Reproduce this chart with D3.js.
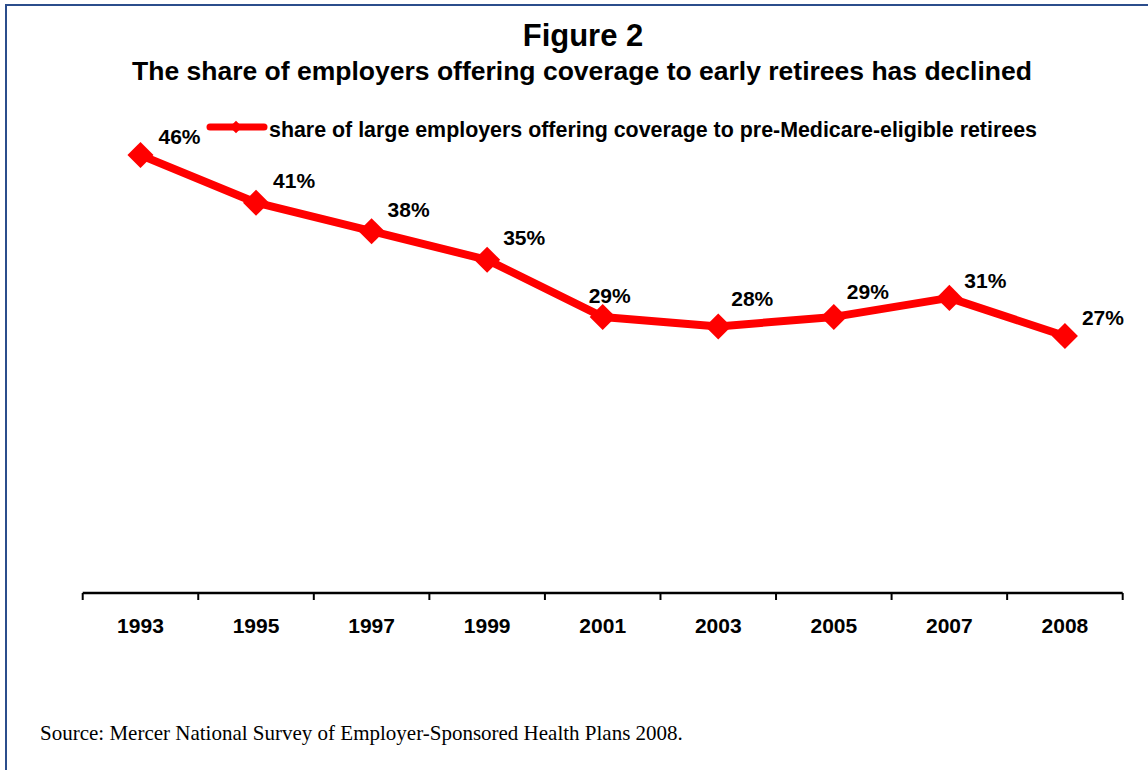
<!DOCTYPE html>
<html>
<head>
<meta charset="utf-8">
<script src="https://cdn.jsdelivr.net/npm/d3@7"></script>
<style>
  body { margin:0; background:#fff; }
  svg { display:block; }
</style>
</head>
<body>
<div id="chart"></div>
<script>
// data
const years = ['1993','1995','1997','1999','2001','2003','2005','2007','2008'];
const shares = [46, 41, 38, 35, 29, 28, 29, 31, 27];
const seriesName = 'share of large employers offering coverage to pre-Medicare-eligible retirees';

// label nudges (label start relative to marker), hand placed like the original
const labelDx = [18, 17, 16, 16, -14, 13, 13, 15, 17];
const labelDy = [-11, -15, -14, -15, -14, -20, -18, -10, -11];

const W = 1148, H = 770;
const RED = '#ff0000';

const svg = d3.select('#chart').append('svg')
  .attr('width', W)
  .attr('height', H);

svg.append('rect')
  .attr('x', 6).attr('y', 5)
  .attr('width', W + 20).attr('height', H + 20)
  .attr('fill', '#fff')
  .attr('stroke', '#2b4d8c')
  .attr('stroke-width', 2);

svg.append('text')
  .attr('x', 583).attr('y', 46)
  .attr('text-anchor', 'middle')
  .style('font', 'bold 31px "Liberation Sans", Arial, sans-serif')
  .text('Figure 2');

svg.append('text')
  .attr('x', 582).attr('y', 80)
  .attr('text-anchor', 'middle')
  .style('font', 'bold 26.5px "Liberation Sans", Arial, sans-serif')
  .text('The share of employers offering coverage to early retirees has declined');

const x = d3.scaleBand()
  .domain(years)
  .range([82.7, 1122.7]);

const y = d3.scaleLinear()
  .domain([0, 50])
  .range([593, 117]);

// x axis
const xAxis = svg.append('g')
  .attr('transform', 'translate(0,593)')
  .call(d3.axisBottom(x).tickSize(0).tickPadding(0));
xAxis.select('.domain').remove();
xAxis.selectAll('text')
  .attr('y', 40)
  .attr('dy', null)
  .style('font', 'bold 21px "Liberation Sans", Arial, sans-serif')
  .attr('fill', '#000');

xAxis.append('line')
  .attr('x1', x.range()[0]).attr('x2', x.range()[1])
  .attr('stroke', '#000').attr('stroke-width', 2.5);

const edges = years.map(d => x(d)).concat([x.range()[1]]);
xAxis.selectAll('.edge')
  .data(edges)
  .join('line')
  .attr('class', 'edge')
  .attr('x1', d => d).attr('x2', d => d)
  .attr('y1', 0).attr('y2', 7)
  .attr('stroke', '#000').attr('stroke-width', 2);

const cx = d => x(d) + x.bandwidth() / 2;
const pts = years.map((d, i) => ({ year: d, v: shares[i], i: i }));

const line = d3.line()
  .x(d => cx(d.year))
  .y(d => y(d.v));

svg.append('path')
  .datum(pts)
  .attr('d', line)
  .attr('fill', 'none')
  .attr('stroke', RED)
  .attr('stroke-width', 8)
  .attr('stroke-linejoin', 'round');

const diamond = d3.symbol().type(d3.symbolSquare).size(340);
svg.selectAll('.marker')
  .data(pts)
  .join('path')
  .attr('class', 'marker')
  .attr('d', diamond)
  .attr('transform', d => `translate(${cx(d.year)},${y(d.v)}) rotate(45)`)
  .attr('fill', RED);

svg.selectAll('.lbl')
  .data(pts)
  .join('text')
  .attr('class', 'lbl')
  .attr('x', d => cx(d.year) + labelDx[d.i])
  .attr('y', d => y(d.v) + labelDy[d.i])
  .style('font', 'bold 21px "Liberation Sans", Arial, sans-serif')
  .text(d => d.v + '%');

// legend
const lg = svg.append('g');
lg.append('line')
  .attr('x1', 210).attr('x2', 264)
  .attr('y1', 127).attr('y2', 127)
  .attr('stroke', RED).attr('stroke-width', 7)
  .attr('stroke-linecap', 'round');
lg.append('path')
  .attr('d', d3.symbol().type(d3.symbolSquare).size(80))
  .attr('transform', 'translate(236,127) rotate(45)')
  .attr('fill', RED);
lg.append('text')
  .attr('x', 269).attr('y', 137)
  .style('font', 'bold 21.4px "Liberation Sans", Arial, sans-serif')
  .text(seriesName);

svg.append('text')
  .attr('x', 40).attr('y', 740)
  .style('font', '21px "Liberation Serif", "Times New Roman", serif')
  .text('Source: Mercer National Survey of Employer-Sponsored Health Plans 2008.');
</script>
</body>
</html>
